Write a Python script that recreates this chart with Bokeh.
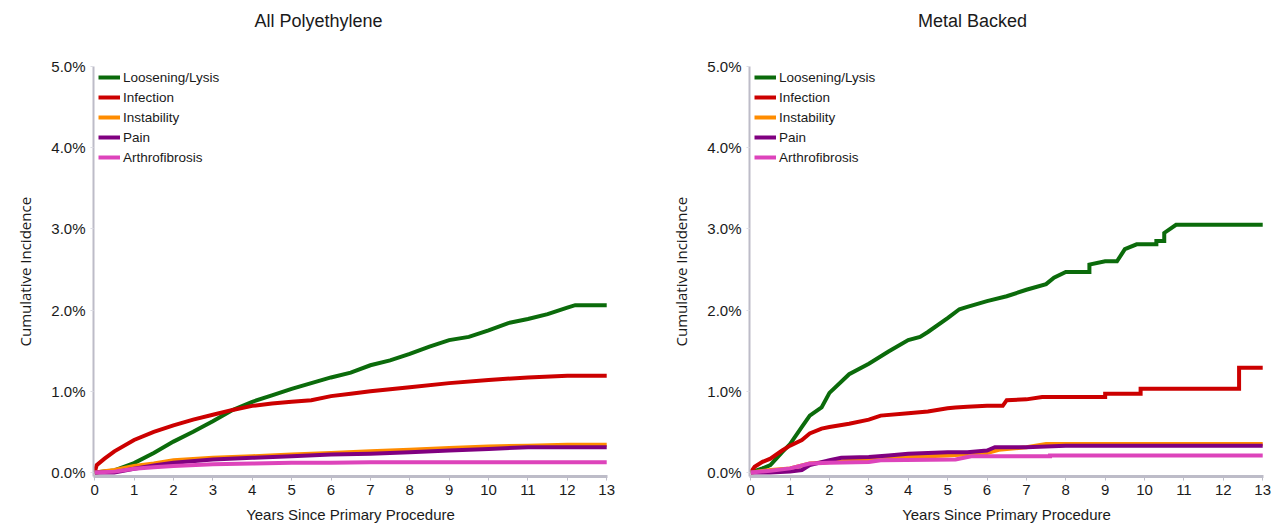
from bokeh.plotting import figure
from bokeh.layouts import row
from bokeh.models import Range1d, FixedTicker, PrintfTickFormatter, Legend, Label, Title
from bokeh.embed import file_html
from bokeh.resources import INLINE

# Cumulative incidence (%) of revision by reason, years since primary procedure

# --- All Polyethylene ---
pe_loosen_t = [0, 0.5, 1, 1.5, 2, 2.5, 3, 3.5, 4, 4.5, 5, 5.5, 6, 6.5, 7, 7.5, 8, 8.5, 9, 9.5, 10, 10.5, 11, 11.5, 12, 12.2, 13]
pe_loosen_v = [0, 0.025, 0.115, 0.24, 0.38, 0.50, 0.63, 0.77, 0.87, 0.95, 1.03, 1.10, 1.17, 1.23, 1.32, 1.38, 1.46, 1.55, 1.63, 1.67, 1.75, 1.84, 1.89, 1.95, 2.03, 2.06, 2.06]

pe_infect_t = [0, 0.05, 0.25, 0.5, 1, 1.5, 2, 2.5, 3, 3.5, 4, 4.5, 5, 5.5, 6, 6.5, 7, 8, 9, 10, 11, 12, 13]
pe_infect_v = [0, 0.09, 0.17, 0.26, 0.40, 0.50, 0.58, 0.65, 0.71, 0.77, 0.82, 0.85, 0.87, 0.89, 0.94, 0.97, 1.00, 1.05, 1.10, 1.14, 1.17, 1.19, 1.19]

pe_small_t = [0, 0.5, 1, 1.5, 2, 3, 4, 5, 6, 7, 8, 9, 10, 11, 12, 13]
pe_instab_v = [0, 0.03, 0.08, 0.11, 0.15, 0.18, 0.20, 0.22, 0.24, 0.26, 0.28, 0.30, 0.32, 0.33, 0.34, 0.34]
pe_pain_v = [0, 0.0, 0.045, 0.085, 0.12, 0.16, 0.18, 0.20, 0.22, 0.23, 0.25, 0.27, 0.29, 0.31, 0.31, 0.31]
pe_arthro_v = [0, 0.01, 0.045, 0.065, 0.08, 0.10, 0.11, 0.12, 0.12, 0.125, 0.125, 0.125, 0.125, 0.125, 0.125, 0.125]

# --- Metal Backed ---
mb_loosen_t = [0, 0.3, 0.5, 0.8, 1.0, 1.3, 1.5, 1.8, 2.0, 2.5, 3.0, 3.5, 4.0, 4.3, 4.5, 5.0, 5.3, 5.5, 6.0, 6.5, 7.0, 7.5, 7.7, 8.0, 8.6, 8.6, 9.0, 9.3, 9.5, 9.8, 10.3, 10.3, 10.5, 10.5, 10.8, 13]
mb_loosen_v = [0, 0.05, 0.09, 0.25, 0.35, 0.56, 0.70, 0.80, 0.98, 1.21, 1.34, 1.49, 1.63, 1.67, 1.73, 1.90, 2.01, 2.04, 2.11, 2.17, 2.25, 2.32, 2.40, 2.47, 2.47, 2.56, 2.60, 2.60, 2.75, 2.81, 2.81, 2.85, 2.85, 2.95, 3.05, 3.05]

mb_infect_t = [0, 0.1, 0.3, 0.5, 0.8, 1.0, 1.3, 1.5, 1.8, 2.0, 2.5, 3.0, 3.3, 4.0, 4.5, 5.0, 5.2, 5.5, 6.0, 6.4, 6.5, 7.0, 7.4, 9.0, 9.0, 9.9, 9.9, 12.4, 12.4, 13]
mb_infect_v = [0, 0.07, 0.13, 0.17, 0.27, 0.33, 0.40, 0.48, 0.54, 0.56, 0.60, 0.65, 0.70, 0.73, 0.75, 0.79, 0.80, 0.81, 0.82, 0.82, 0.89, 0.90, 0.93, 0.93, 0.97, 0.97, 1.03, 1.03, 1.29, 1.29]

mb_instab_t = [0, 0.5, 1.0, 1.5, 2.0, 3.0, 4.0, 5.0, 6.0, 6.3, 7.0, 7.5, 13]
mb_instab_v = [0, 0.03, 0.05, 0.11, 0.13, 0.16, 0.19, 0.21, 0.24, 0.28, 0.31, 0.35, 0.35]

mb_pain_t = [0, 0.5, 1.0, 1.3, 1.5, 2.0, 2.3, 3.0, 3.5, 4.0, 4.5, 5.0, 5.5, 6.0, 6.2, 7.0, 8.0, 13]
mb_pain_v = [0, 0, 0.01, 0.03, 0.09, 0.15, 0.18, 0.19, 0.21, 0.23, 0.24, 0.25, 0.25, 0.27, 0.31, 0.31, 0.33, 0.33]

mb_arthro_t = [0, 0.5, 1.0, 1.5, 2.0, 3.0, 3.3, 5.2, 5.6, 7.6, 7.6, 13]
mb_arthro_v = [0, 0.02, 0.05, 0.11, 0.12, 0.13, 0.15, 0.16, 0.20, 0.20, 0.21, 0.21]

series_names = ["Loosening/Lysis", "Infection", "Instability", "Pain", "Arthrofibrosis"]
series_colors = ["#0B6B0B", "#CC0000", "#FF8C00", "#800080", "#DD44BB"]
x_ticks = list(range(0, 14))
y_ticks = [0, 1, 2, 3, 4, 5]
y_min, y_max = -0.05, 5.0

SANS = "Liberation Sans"
AXIS_GREY = "#BDBCC8"
TEXT = "#1a1a1a"

PLOT_W = 514                        # width of the plotting area
AXIS_H = 410                        # height covered by the 0-5 % axis
HEAD_H = 56                         # room above the axis for the heading
PX_PER_YEAR = PLOT_W / 13.05
PX_PER_PCT = AXIS_H / (y_max - y_min)


def make_panel(title, curves, border_left, border_right, title_center_px):
    y_top = y_max + HEAD_H / PX_PER_PCT
    p = figure(frame_width=PLOT_W, frame_height=AXIS_H + HEAD_H,
               x_range=Range1d(-0.03, 13.02), y_range=Range1d(y_min, y_top),
               output_backend="svg", toolbar_location=None,
               min_border_left=border_left, min_border_right=border_right,
               min_border_top=10, min_border_bottom=54)
    p.outline_line_color = None
    p.grid.visible = False
    p.background_fill_color = "white"

    # panel heading, 46 px above the top of the axis
    p.add_layout(Label(x=-0.03 + title_center_px / PX_PER_YEAR,
                       y=y_max + 46 / PX_PER_PCT,
                       text=title, text_align="center", text_baseline="middle",
                       text_font=SANS, text_font_size="18px", text_color=TEXT))

    items = []
    for (t, v), name, color in zip(curves, series_names, series_colors):
        r = p.line(t, v, line_color=color, line_width=4, line_join="miter")
        items.append((name, [r]))

    legend = Legend(items=items, location=(5, 309), margin=0, padding=0,
                    spacing=0, label_height=20, glyph_height=20, glyph_width=22,
                    label_standoff=3, border_line_color=None,
                    background_fill_alpha=0, label_text_font=SANS,
                    label_text_font_size="13.5px", label_text_color=TEXT)
    p.add_layout(legend)

    xa = p.xaxis[0]
    xa.ticker = FixedTicker(ticks=x_ticks)
    xa.axis_line_color = AXIS_GREY
    xa.axis_line_width = 3
    xa.major_tick_line_color = AXIS_GREY
    xa.major_tick_in = 0
    xa.major_tick_out = 4
    xa.minor_tick_line_color = None
    xa.major_label_standoff = 4
    xa.major_label_text_font = SANS
    xa.major_label_text_font_size = "15px"
    xa.major_label_text_color = TEXT
    xa.axis_label = "Years Since Primary Procedure"
    xa.axis_label_text_font = SANS
    xa.axis_label_text_font_size = "15px"
    xa.axis_label_text_font_style = "normal"
    xa.axis_label_text_color = TEXT
    xa.axis_label_standoff = 8

    ya = p.yaxis[0]
    ya.ticker = FixedTicker(ticks=y_ticks)
    ya.bounds = (y_min, y_max)
    ya.formatter = PrintfTickFormatter(format="%.1f%%")
    ya.axis_line_color = AXIS_GREY
    ya.axis_line_width = 2
    ya.major_tick_line_color = "#DDDDE4"
    ya.major_tick_in = 0
    ya.major_tick_out = 3
    ya.minor_tick_line_color = None
    ya.major_label_standoff = 5
    ya.major_label_text_font = SANS
    ya.major_label_text_font_size = "15px"
    ya.major_label_text_color = TEXT

    # y-axis caption, centred on the 0-5 % span rather than the whole area
    p.add_layout(Title(text="Cumulative Incidence", align="left", offset=130,
                       vertical_align="top", standoff=24, text_line_height=1.0,
                       text_font="Open Sans", text_font_size="15px",
                       text_font_style="normal", text_color=TEXT), "left")
    return p


left = make_panel("All Polyethylene",
                  [(pe_loosen_t, pe_loosen_v), (pe_infect_t, pe_infect_v),
                   (pe_small_t, pe_instab_v), (pe_small_t, pe_pain_v),
                   (pe_small_t, pe_arthro_v)],
                  93, 32, 225)
right = make_panel("Metal Backed",
                   [(mb_loosen_t, mb_loosen_v), (mb_infect_t, mb_infect_v),
                    (mb_instab_t, mb_instab_v), (mb_pain_t, mb_pain_v),
                    (mb_arthro_t, mb_arthro_v)],
                   110, 15, 223)

layout = row(left, right)
open("out.html", "w").write(file_html(layout, INLINE))
